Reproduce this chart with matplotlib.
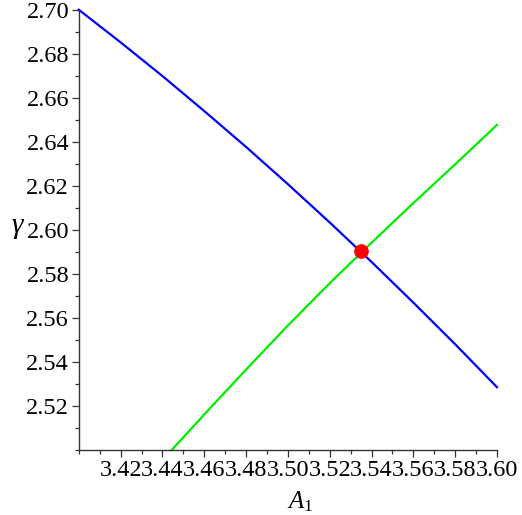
import matplotlib.pyplot as plt
from matplotlib.ticker import MultipleLocator, FixedLocator, FixedFormatter

# curve 1 (blue)
blue_x = [3.40, 3.42, 3.44, 3.46, 3.48, 3.50, 3.52, 3.54, 3.56, 3.58, 3.60]
blue_y = [2.7000, 2.6852, 2.6699, 2.6540, 2.6377, 2.6208, 2.6034, 2.5855, 2.5670, 2.5481, 2.5286]

# curve 2 (green)
green_x = [3.4444, 3.46, 3.48, 3.50, 3.52, 3.54, 3.56, 3.58, 3.60]
green_y = [2.5000, 2.5162, 2.5366, 2.5566, 2.5758, 2.5942, 2.6122, 2.6298, 2.6477]

# intersection point
cross_x = [3.535]
cross_y = [2.5905]

x_ticks = [3.42, 3.44, 3.46, 3.48, 3.50, 3.52, 3.54, 3.56, 3.58, 3.60]
y_ticks = [2.52, 2.54, 2.56, 2.58, 2.60, 2.62, 2.64, 2.66, 2.68, 2.70]

plt.rcParams['font.family'] = 'serif'
plt.rcParams['font.serif'] = ['Liberation Serif', 'DejaVu Serif']
plt.rcParams['mathtext.fontset'] = 'custom'
plt.rcParams['mathtext.it'] = 'Liberation Serif:italic'
plt.rcParams['mathtext.rm'] = 'Liberation Serif'

fig = plt.figure(figsize=(5.22, 5.15), dpi=100)
ax = fig.add_axes([0.151, 0.126, 0.801, 0.855])

ax.plot(blue_x, blue_y, color="#0000ff", lw=1.6, clip_on=False)
ax.plot(green_x, green_y, color="#00ee00", lw=1.6, clip_on=False)
ax.plot(cross_x, cross_y, "o", color="#ff0000", ms=9.5, clip_on=False, zorder=5)

ax.set_xlim(3.40, 3.60)
ax.set_ylim(2.50, 2.70)

ax.xaxis.set_major_locator(FixedLocator(x_ticks))
ax.xaxis.set_major_formatter(FixedFormatter([f"{v:.2f}" for v in x_ticks]))
ax.yaxis.set_major_locator(FixedLocator(y_ticks))
ax.yaxis.set_major_formatter(FixedFormatter([f"{v:.2f}" for v in y_ticks]))
ax.xaxis.set_minor_locator(MultipleLocator(0.01))
ax.yaxis.set_minor_locator(MultipleLocator(0.01))

for s in ["top", "right"]:
    ax.spines[s].set_visible(False)
for s in ["left", "bottom"]:
    ax.spines[s].set_color("#333333")
    ax.spines[s].set_linewidth(1.0)

ax.tick_params(which="major", direction="out", length=5, width=0.9,
               color="#333333", labelsize=17.5, pad=2)
ax.tick_params(which="minor", direction="out", length=3, width=0.9, color="#333333")

ax.set_xlabel(r"$A_{\mathit{1}}$", fontsize=18)
ax.xaxis.set_label_coords(0.53, -0.09)
ax.set_ylabel(r"$\gamma$", fontsize=21, rotation=0, va="center", ha="center")
ax.yaxis.set_label_coords(-0.146, 0.505)

fig.savefig("out.png", dpi=100)
